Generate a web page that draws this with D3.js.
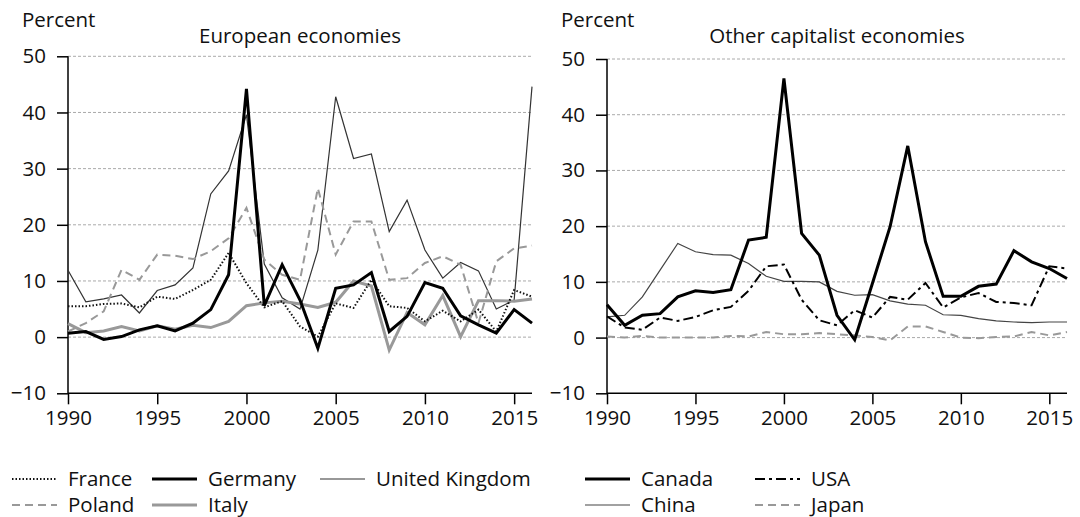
<!DOCTYPE html>
<html>
<head>
<meta charset="utf-8">
<script src="https://cdn.jsdelivr.net/npm/d3@7"></script>
<style>
  body { margin: 0; background: #fff; }
  svg { font-family: "Open Sans", sans-serif; }
  .grid line { stroke: #aaa; stroke-dasharray: 3,2; stroke-width: 1; }
  .lbl { font-size: 20.5px; fill: #111; }
</style>
</head>
<body>
<svg id="chart" width="1080" height="517"></svg>
<script>
const years = d3.range(1990, 2017)
const yTicks = [-10, 0, 10, 20, 30, 40, 50]
const xTicks = [1990, 1995, 2000, 2005, 2010, 2015]

// European economies
const france  = [5.5, 5.5, 5.9, 6.0, 5.3, 7.2, 6.8, 8.4, 10.2, 15.0, 9.6, 5.3, 6.4, 1.9, 0.1, 6.0, 5.2, 10.2, 5.5, 5.2, 2.8, 4.7, 2.8, 4.9, 1.0, 8.4, 7.2]
const germany = [0.7, 1.0, -0.4, 0.1, 1.3, 2.0, 1.1, 2.5, 4.9, 11.1, 44.2, 5.6, 12.9, 6.6, -2.0, 8.7, 9.3, 11.5, 1.0, 3.7, 9.7, 8.7, 3.8, 2.2, 0.7, 4.9, 2.5]
const uk      = [11.9, 6.3, 6.8, 7.5, 4.3, 8.3, 9.3, 12.3, 25.5, 29.6, 39.6, 13.0, 7.0, 5.0, 15.5, 42.8, 31.8, 32.6, 18.8, 24.4, 15.5, 10.5, 13.3, 11.8, 5.0, 6.6, 44.6]
const poland  = [1.0, 2.5, 4.6, 12.0, 10.2, 14.7, 14.5, 13.9, 15.3, 17.6, 23.0, 13.8, 11.1, 10.2, 26.5, 14.7, 20.6, 20.6, 10.2, 10.5, 13.2, 14.4, 12.9, 2.5, 13.5, 15.8, 16.3]
const italy   = [2.4, 0.8, 1.1, 1.9, 1.1, 2.0, 1.4, 2.1, 1.7, 2.8, 5.6, 6.1, 6.4, 5.9, 5.3, 6.2, 10.0, 9.1, -2.3, 4.4, 2.2, 7.4, 0.1, 6.5, 6.5, 6.4, 6.8]

// Other capitalist economies
const canada = [5.9, 2.2, 4.0, 4.3, 7.3, 8.4, 8.1, 8.6, 17.5, 18.0, 46.5, 18.7, 14.8, 4.0, -0.4, 9.7, 19.9, 34.4, 17.2, 7.4, 7.4, 9.2, 9.6, 15.6, 13.6, 12.4, 10.6]
const usa    = [3.8, 1.8, 1.4, 3.6, 3.0, 3.7, 4.9, 5.5, 8.4, 12.8, 13.1, 6.8, 3.1, 2.2, 4.9, 3.6, 7.3, 6.8, 9.8, 5.4, 7.2, 8.0, 6.4, 6.2, 5.8, 12.8, 12.4]
const china  = [3.7, 4.0, 7.3, 12.1, 16.9, 15.4, 14.9, 14.8, 13.3, 11.0, 10.1, 10.1, 10.0, 8.3, 7.6, 7.7, 6.6, 6.0, 5.8, 4.1, 4.0, 3.4, 3.0, 2.8, 2.7, 2.8, 2.8]
const japan  = [0.2, 0.0, 0.3, 0.0, 0.0, 0.0, 0.0, 0.3, 0.2, 1.0, 0.6, 0.6, 0.8, 0.6, 0.4, 0.1, -0.5, 2.0, 2.0, 1.0, 0.0, -0.1, 0.1, 0.2, 1.0, 0.4, 1.0]

const styles = {
  France:   { stroke: "#111", width: 2, dash: "1.5,2" },
  Germany:  { stroke: "#000", width: 3, dash: null },
  "United Kingdom": { stroke: "#333", width: 1.2, dash: null },
  Poland:   { stroke: "#999", width: 2, dash: "8,5" },
  Italy:    { stroke: "#999", width: 3, dash: null },
  Canada:   { stroke: "#000", width: 3, dash: null },
  USA:      { stroke: "#000", width: 2, dash: "10,4,3,4" },
  China:    { stroke: "#444", width: 1.2, dash: null },
  Japan:    { stroke: "#999", width: 2, dash: "8,5" }
}

const svg = d3.select("#chart")

const panels = [
  { title: "European economies", x0: 68, x1: 532, yTop: 56.3,
    series: [["United Kingdom", uk], ["Poland", poland], ["Italy", italy], ["France", france], ["Germany", germany]],
    legend: { x: 12, cols: [0, 140, 308], rows: [["France", "Germany", "United Kingdom"], ["Poland", "Italy"]] } },
  { title: "Other capitalist economies", x0: 607, x1: 1067, yTop: 59,
    series: [["China", china], ["Japan", japan], ["USA", usa], ["Canada", canada]],
    legend: { x: 585, cols: [0, 170], rows: [["Canada", "USA"], ["China", "Japan"]] } }
]

panels.forEach(p => {
  const x = d3.scaleLinear().domain([1990, 2016]).range([p.x0, p.x1])
  const y = d3.scaleLinear().domain([-10, 50]).range([393.3, p.yTop])
  const g = svg.append("g")

  // gridlines
  g.append("g").attr("class", "grid")
    .selectAll("line").data(yTicks.filter(t => t > -10)).enter()
    .append("line")
      .attr("x1", p.x0).attr("x2", p.x1)
      .attr("y1", d => y(d)).attr("y2", d => y(d))

  const yAxis = g.append("g")
    .attr("transform", `translate(${p.x0},0)`)
    .call(d3.axisLeft(y).tickValues(yTicks).tickSize(11).tickPadding(11)
      .tickFormat(d => d < 0 ? "\u2212" + Math.abs(d) : d))
  const xAxis = g.append("g")
    .attr("transform", `translate(0,${y(-10)})`)
    .call(d3.axisBottom(x).tickValues(xTicks).tickSize(11).tickPadding(6).tickFormat(d3.format("d")))
  ;[yAxis, xAxis].forEach(a => {
    a.select(".domain").attr("stroke", "#000").attr("stroke-width", 1.5)
    a.selectAll(".tick line").attr("stroke", "#000").attr("stroke-width", 1.5)
    a.selectAll("text").attr("font-size", 20.5).attr("font-family", "Open Sans, sans-serif").attr("fill", "#111")
  })
  xAxis.select(".domain").attr("d", `M${p.x0},0H${p.x1}`)
  yAxis.select(".domain").attr("d", `M0,${y(50)}V${y(-10)}`)

  g.append("text").attr("class", "lbl")
    .attr("x", p.x0 - 46).attr("y", 27).text("Percent")
  g.append("text").attr("class", "lbl")
    .attr("x", (p.x0 + p.x1) / 2).attr("y", 43)
    .attr("text-anchor", "middle").text(p.title)

  const line = d3.line().x((d, i) => x(years[i])).y(d => y(d))
  p.series.forEach(([name, vals]) => {
    const s = styles[name]
    g.append("path")
      .attr("d", line(vals))
      .attr("fill", "none")
      .attr("stroke", s.stroke)
      .attr("stroke-width", s.width)
      .attr("stroke-dasharray", s.dash)
      .attr("stroke-linejoin", "miter")
  })

  // legend
  p.legend.rows.forEach((row, ri) => {
    row.forEach((name, ci) => {
      const s = styles[name]
      const lx = p.legend.x + p.legend.cols[ci]
      const ly = 479 + ri * 26
      g.append("line")
        .attr("x1", lx).attr("x2", lx + 45)
        .attr("y1", ly).attr("y2", ly)
        .attr("stroke", s.stroke)
        .attr("stroke-width", s.width)
        .attr("stroke-dasharray", s.dash)
      g.append("text").attr("class", "lbl")
        .attr("x", lx + 56).attr("y", ly + 7).text(name)
    })
  })
})
</script>
</body>
</html>
